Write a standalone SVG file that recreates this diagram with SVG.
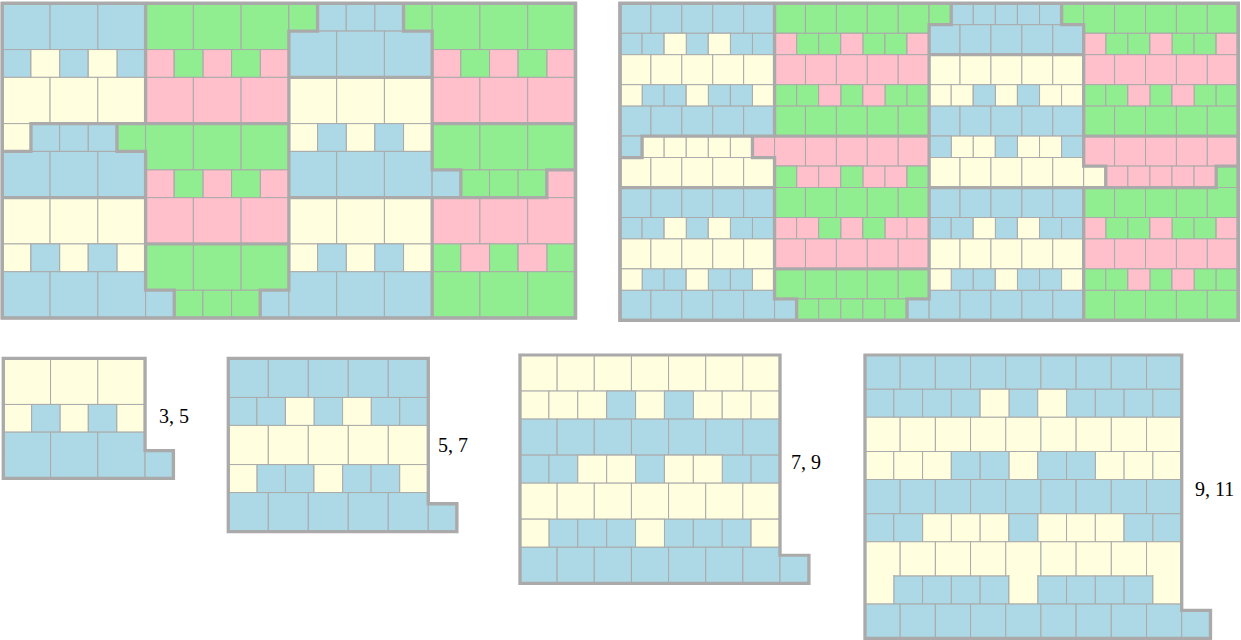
<svg xmlns="http://www.w3.org/2000/svg" xmlns:xlink="http://www.w3.org/1999/xlink" width="1241" height="640" viewBox="0 0 1241 640">
<style>
.b{fill:#add8e6}.y{fill:#ffffe0}.g{fill:#90ee90}.p{fill:#ffc0cb}
.yc{fill:#ffffe0;stroke:none}
.lbl{font-family:'Liberation Serif','DejaVu Serif',serif;font-size:20px;fill:#000}
</style>
<defs>
<g id="b3"><rect width="5" height="5"/><rect x="5" width="5" height="5"/><rect x="10" width="5" height="5"/></g>
<g id="s5"><rect width="3" height="3"/><rect x="3" width="3" height="3"/><rect x="6" width="3" height="3"/><rect x="9" width="3" height="3"/><rect x="12" width="3" height="3"/></g>
<g id="b5"><rect width="7" height="7"/><rect x="7" width="7" height="7"/><rect x="14" width="7" height="7"/><rect x="21" width="7" height="7"/><rect x="28" width="7" height="7"/></g>
<g id="s7"><rect width="5" height="5"/><rect x="5" width="5" height="5"/><rect x="10" width="5" height="5"/><rect x="15" width="5" height="5"/><rect x="20" width="5" height="5"/><rect x="25" width="5" height="5"/><rect x="30" width="5" height="5"/></g>
<g id="b7"><rect width="9" height="9"/><rect x="9" width="9" height="9"/><rect x="18" width="9" height="9"/><rect x="27" width="9" height="9"/><rect x="36" width="9" height="9"/><rect x="45" width="9" height="9"/><rect x="54" width="9" height="9"/></g>
<g id="s9"><rect width="7" height="7"/><rect x="7" width="7" height="7"/><rect x="14" width="7" height="7"/><rect x="21" width="7" height="7"/><rect x="28" width="7" height="7"/><rect x="35" width="7" height="7"/><rect x="42" width="7" height="7"/><rect x="49" width="7" height="7"/><rect x="56" width="7" height="7"/></g>
<g id="b9"><rect width="11" height="11"/><rect x="11" width="11" height="11"/><rect x="22" width="11" height="11"/><rect x="33" width="11" height="11"/><rect x="44" width="11" height="11"/><rect x="55" width="11" height="11"/><rect x="66" width="11" height="11"/><rect x="77" width="11" height="11"/><rect x="88" width="11" height="11"/></g>
<g id="s11"><rect width="9" height="9"/><rect x="9" width="9" height="9"/><rect x="18" width="9" height="9"/><rect x="27" width="9" height="9"/><rect x="36" width="9" height="9"/><rect x="45" width="9" height="9"/><rect x="54" width="9" height="9"/><rect x="63" width="9" height="9"/><rect x="72" width="9" height="9"/><rect x="81" width="9" height="9"/><rect x="90" width="9" height="9"/></g>
</defs>
<rect width="1241" height="640" fill="#fff"/>

<g id="left-panel" transform="translate(2.3 3.3) scale(9.553 9.256)" stroke="#aaa" stroke-width="0.106">
<g id="left-col-a">
<use href="#b3" x="0" y="0" class="b"/>
<use href="#s5" x="0" y="5" class="b"/><rect x="3" y="5" width="3" height="3" class="y"/><rect x="9" y="5" width="3" height="3" class="y"/>
<use href="#b3" x="0" y="8" class="y"/>
<use href="#s5" x="0" y="13" class="b"/><rect x="0" y="13" width="3" height="3" class="y"/><rect x="12" y="13" width="3" height="3" class="g"/>
<use href="#b3" x="0" y="16" class="b"/>
<use href="#b3" x="0" y="21" class="y"/>
<use href="#s5" x="0" y="26" class="y"/><rect x="3" y="26" width="3" height="3" class="b"/><rect x="9" y="26" width="3" height="3" class="b"/>
<use href="#b3" x="0" y="29" class="b"/>
</g>
<g id="left-col-b">
<use href="#b3" x="15" y="0" class="g"/>
<use href="#s5" x="15" y="5" class="p"/><rect x="18" y="5" width="3" height="3" class="g"/><rect x="24" y="5" width="3" height="3" class="g"/>
<use href="#b3" x="15" y="8" class="p"/>
<use href="#b3" x="15" y="13" class="g"/>
<use href="#s5" x="15" y="18" class="p"/><rect x="18" y="18" width="3" height="3" class="g"/><rect x="24" y="18" width="3" height="3" class="g"/>
<use href="#b3" x="15" y="21" class="p"/>
<use href="#b3" x="15" y="26" class="g"/>
<use href="#s5" x="15" y="31" class="g"/><rect x="15" y="31" width="3" height="3" class="b"/><rect x="27" y="31" width="3" height="3" class="b"/>
</g>
<g id="left-col-c">
<use href="#s5" x="30" y="0" class="b"/><rect x="30" y="0" width="3" height="3" class="g"/><rect x="42" y="0" width="3" height="3" class="g"/>
<use href="#b3" x="30" y="3" class="b"/>
<use href="#b3" x="30" y="8" class="y"/>
<use href="#s5" x="30" y="13" class="y"/><rect x="33" y="13" width="3" height="3" class="b"/><rect x="39" y="13" width="3" height="3" class="b"/>
<use href="#b3" x="30" y="16" class="b"/>
<use href="#b3" x="30" y="21" class="y"/>
<use href="#s5" x="30" y="26" class="y"/><rect x="33" y="26" width="3" height="3" class="b"/><rect x="39" y="26" width="3" height="3" class="b"/>
<use href="#b3" x="30" y="29" class="b"/>
</g>
<g id="left-col-d">
<use href="#b3" x="45" y="0" class="g"/>
<use href="#s5" x="45" y="5" class="p"/><rect x="48" y="5" width="3" height="3" class="g"/><rect x="54" y="5" width="3" height="3" class="g"/>
<use href="#b3" x="45" y="8" class="p"/>
<use href="#b3" x="45" y="13" class="g"/>
<use href="#s5" x="45" y="18" class="g"/><rect x="45" y="18" width="3" height="3" class="b"/><rect x="57" y="18" width="3" height="3" class="p"/>
<use href="#b3" x="45" y="21" class="p"/>
<use href="#s5" x="45" y="26" class="g"/><rect x="48" y="26" width="3" height="3" class="p"/><rect x="54" y="26" width="3" height="3" class="p"/>
<use href="#b3" x="45" y="29" class="g"/>
</g>
<g id="left-outlines" fill="none" stroke-width="0.35">
<path d="M0 0H15V13H3V16H0Z M3 13H12V16H15V21H0V16H3Z M0 21H15V31H18V34H0Z M15 0H33V3H30V13H15Z M12 13H30V26H15V16H12Z M15 26H30V31H27V34H18V31H15Z M33 0H42V3H45V8H30V3H33Z M30 8H45V18H48V21H30Z M30 21H45V34H27V31H30Z M42 0H60V13H45V3H42Z M45 13H60V18H57V21H48V18H45Z M45 21H57V18H60V34H45Z"/>
<rect width="60" height="34"/>
</g>
</g>

<g id="right-panel" transform="translate(620 3.3) scale(4.416 4.284)" stroke="#aaa" stroke-width="0.23">
<g id="right-col-1">
<use href="#b5" x="0" y="0" class="b"/>
<use href="#s7" x="0" y="7" class="b"/><rect x="10" y="7" width="5" height="5" class="y"/><rect x="20" y="7" width="5" height="5" class="y"/>
<use href="#b5" x="0" y="12" class="y"/>
<use href="#s7" x="0" y="19" class="b"/><rect x="0" y="19" width="5" height="5" class="y"/><rect x="15" y="19" width="5" height="5" class="y"/><rect x="30" y="19" width="5" height="5" class="y"/>
<use href="#b5" x="0" y="24" class="b"/>
<use href="#s7" x="0" y="31" class="y"/><rect x="0" y="31" width="5" height="5" class="b"/><rect x="30" y="31" width="5" height="5" class="p"/>
<use href="#b5" x="0" y="36" class="y"/>
<use href="#b5" x="0" y="43" class="b"/>
<use href="#s7" x="0" y="50" class="b"/><rect x="10" y="50" width="5" height="5" class="y"/><rect x="20" y="50" width="5" height="5" class="y"/>
<use href="#b5" x="0" y="55" class="y"/>
<use href="#s7" x="0" y="62" class="b"/><rect x="0" y="62" width="5" height="5" class="y"/><rect x="15" y="62" width="5" height="5" class="y"/><rect x="30" y="62" width="5" height="5" class="y"/>
<use href="#b5" x="0" y="67" class="b"/>
</g>
<g id="right-col-2">
<use href="#b5" x="35" y="0" class="g"/>
<use href="#s7" x="35" y="7" class="g"/><rect x="35" y="7" width="5" height="5" class="p"/><rect x="50" y="7" width="5" height="5" class="p"/><rect x="65" y="7" width="5" height="5" class="p"/>
<use href="#b5" x="35" y="12" class="p"/>
<use href="#s7" x="35" y="19" class="g"/><rect x="45" y="19" width="5" height="5" class="p"/><rect x="55" y="19" width="5" height="5" class="p"/>
<use href="#b5" x="35" y="24" class="g"/>
<use href="#b5" x="35" y="31" class="p"/>
<use href="#s7" x="35" y="38" class="p"/><rect x="35" y="38" width="5" height="5" class="g"/><rect x="50" y="38" width="5" height="5" class="g"/><rect x="65" y="38" width="5" height="5" class="g"/>
<use href="#b5" x="35" y="43" class="g"/>
<use href="#s7" x="35" y="50" class="p"/><rect x="45" y="50" width="5" height="5" class="g"/><rect x="55" y="50" width="5" height="5" class="g"/>
<use href="#b5" x="35" y="55" class="p"/>
<use href="#b5" x="35" y="62" class="g"/>
<use href="#s7" x="35" y="69" class="g"/><rect x="35" y="69" width="5" height="5" class="b"/><rect x="65" y="69" width="5" height="5" class="b"/>
</g>
<g id="right-col-3">
<use href="#s7" x="70" y="0" class="b"/><rect x="70" y="0" width="5" height="5" class="g"/><rect x="100" y="0" width="5" height="5" class="g"/>
<use href="#b5" x="70" y="5" class="b"/>
<use href="#b5" x="70" y="12" class="y"/>
<use href="#s7" x="70" y="19" class="y"/><rect x="80" y="19" width="5" height="5" class="b"/><rect x="90" y="19" width="5" height="5" class="b"/>
<use href="#b5" x="70" y="24" class="b"/>
<use href="#s7" x="70" y="31" class="y"/><rect x="70" y="31" width="5" height="5" class="b"/><rect x="85" y="31" width="5" height="5" class="b"/><rect x="100" y="31" width="5" height="5" class="b"/>
<use href="#b5" x="70" y="36" class="y"/>
<use href="#b5" x="70" y="43" class="b"/>
<use href="#s7" x="70" y="50" class="b"/><rect x="80" y="50" width="5" height="5" class="y"/><rect x="90" y="50" width="5" height="5" class="y"/>
<use href="#b5" x="70" y="55" class="y"/>
<use href="#s7" x="70" y="62" class="b"/><rect x="70" y="62" width="5" height="5" class="y"/><rect x="85" y="62" width="5" height="5" class="y"/><rect x="100" y="62" width="5" height="5" class="y"/>
<use href="#b5" x="70" y="67" class="b"/>
</g>
<g id="right-col-4">
<use href="#b5" x="105" y="0" class="g"/>
<use href="#s7" x="105" y="7" class="g"/><rect x="105" y="7" width="5" height="5" class="p"/><rect x="120" y="7" width="5" height="5" class="p"/><rect x="135" y="7" width="5" height="5" class="p"/>
<use href="#b5" x="105" y="12" class="p"/>
<use href="#s7" x="105" y="19" class="g"/><rect x="115" y="19" width="5" height="5" class="p"/><rect x="125" y="19" width="5" height="5" class="p"/>
<use href="#b5" x="105" y="24" class="g"/>
<use href="#b5" x="105" y="31" class="p"/>
<use href="#s7" x="105" y="38" class="p"/><rect x="105" y="38" width="5" height="5" class="y"/><rect x="135" y="38" width="5" height="5" class="g"/>
<use href="#b5" x="105" y="43" class="g"/>
<use href="#s7" x="105" y="50" class="g"/><rect x="105" y="50" width="5" height="5" class="p"/><rect x="120" y="50" width="5" height="5" class="p"/><rect x="135" y="50" width="5" height="5" class="p"/>
<use href="#b5" x="105" y="55" class="p"/>
<use href="#s7" x="105" y="62" class="g"/><rect x="115" y="62" width="5" height="5" class="p"/><rect x="125" y="62" width="5" height="5" class="p"/>
<use href="#b5" x="105" y="67" class="g"/>
</g>
<g id="right-outlines" fill="none" stroke-width="0.76">
<path d="M0 0H35V31H5V36H0Z M5 31H30V36H35V43H0V36H5Z M0 43H35V69H40V74H0Z M35 0H75V5H70V31H35Z M30 31H70V62H35V36H30Z M35 62H70V69H65V74H40V69H35Z M75 0H100V5H105V12H70V5H75Z M70 12H105V38H110V43H70Z M70 43H105V74H65V69H70Z M100 0H140V31H105V5H100Z M105 31H140V38H135V43H110V38H105Z M105 43H135V38H140V74H105Z"/>
<rect width="140" height="74"/>
</g>
</g>

<g id="piece-3-5" transform="translate(3.3 358.3) scale(9.45 9.23)" stroke="#aaa" stroke-width="0.107">
<use href="#b3" x="0" y="0" class="y"/>
<use href="#s5" x="0" y="5" class="y"/><rect x="3" y="5" width="3" height="3" class="b"/><rect x="9" y="5" width="3" height="3" class="b"/>
<use href="#b3" x="0" y="8" class="b"/>
<rect x="15" y="10" width="3" height="3" class="b"/>
<path d="M0 0H15V10H18V13H0Z" fill="none" stroke-width="0.355"/>
</g>

<g id="piece-5-7" transform="translate(228.3 358.3) scale(5.714 5.594)" stroke="#aaa" stroke-width="0.177">
<use href="#b5" x="0" y="0" class="b"/>
<use href="#s7" x="0" y="7" class="b"/><rect x="10" y="7" width="5" height="5" class="y"/><rect x="20" y="7" width="5" height="5" class="y"/>
<use href="#b5" x="0" y="12" class="y"/>
<use href="#s7" x="0" y="19" class="b"/><rect x="0" y="19" width="5" height="5" class="y"/><rect x="15" y="19" width="5" height="5" class="y"/><rect x="30" y="19" width="5" height="5" class="y"/>
<use href="#b5" x="0" y="24" class="b"/>
<rect x="35" y="26" width="5" height="5" class="b"/>
<path d="M0 0H35V26H40V31H0Z" fill="none" stroke-width="0.585"/>
</g>

<g id="piece-7-9" transform="translate(520 355) scale(4.127 4.005)" stroke="#aaa" stroke-width="0.245">
<use href="#b7" x="0" y="0" class="y"/>
<use href="#s9" x="0" y="9" class="y"/><rect x="21" y="9" width="7" height="7" class="b"/><rect x="35" y="9" width="7" height="7" class="b"/>
<use href="#b7" x="0" y="16" class="b"/>
<use href="#s9" x="0" y="25" class="b"/><rect x="14" y="25" width="7" height="7" class="y"/><rect x="21" y="25" width="7" height="7" class="y"/><rect x="35" y="25" width="7" height="7" class="y"/><rect x="42" y="25" width="7" height="7" class="y"/>
<use href="#b7" x="0" y="32" class="y"/>
<use href="#s9" x="0" y="41" class="b"/><rect x="0" y="41" width="7" height="7" class="y"/><rect x="28" y="41" width="7" height="7" class="y"/><rect x="56" y="41" width="7" height="7" class="y"/>
<use href="#b7" x="0" y="48" class="b"/>
<rect x="63" y="50" width="7" height="7" class="b"/>
<path d="M0 0H63V50H70V57H0Z" fill="none" stroke-width="0.81"/>
</g>

<g id="piece-9-11" transform="translate(865 355) scale(3.199 3.113)" stroke="#aaa" stroke-width="0.316">
<use href="#b9" x="0" y="0" class="b"/>
<use href="#s11" x="0" y="11" class="b"/><rect x="36" y="11" width="9" height="9" class="y"/><rect x="54" y="11" width="9" height="9" class="y"/>
<use href="#b9" x="0" y="20" class="y"/>
<use href="#s11" x="0" y="31" class="y"/><rect x="27" y="31" width="9" height="9" class="b"/><rect x="36" y="31" width="9" height="9" class="b"/><rect x="54" y="31" width="9" height="9" class="b"/><rect x="63" y="31" width="9" height="9" class="b"/>
<use href="#b9" x="0" y="40" class="b"/>
<use href="#s11" x="0" y="51" class="y"/><rect x="0" y="51" width="9" height="9" class="b"/><rect x="9" y="51" width="9" height="9" class="b"/><rect x="45" y="51" width="9" height="9" class="b"/><rect x="81" y="51" width="9" height="9" class="b"/><rect x="90" y="51" width="9" height="9" class="b"/>
<use href="#b9" x="0" y="60" class="y"/>
<use href="#s11" x="0" y="71" class="b"/><rect x="0" y="71" width="9" height="9" class="y"/><rect x="45" y="71" width="9" height="9" class="y"/><rect x="90" y="71" width="9" height="9" class="y"/>
<rect x="0.2" y="70.6" width="8.6" height="0.8" class="yc"/><rect x="45.2" y="70.6" width="8.6" height="0.8" class="yc"/><rect x="90.2" y="70.6" width="8.8" height="0.8" class="yc"/>
<use href="#b9" x="0" y="80" class="b"/>
<rect x="99" y="82" width="9" height="9" class="b"/>
<path d="M0 0H99V82H108V91H0Z" fill="none" stroke-width="1.04"/>
</g>

<g id="labels">
<text class="lbl" x="159" y="423">3, 5</text>
<text class="lbl" x="438" y="451.5">5, 7</text>
<text class="lbl" x="791" y="469">7, 9</text>
<text class="lbl" x="1195" y="495.5">9, 11</text>
</g>
</svg>
